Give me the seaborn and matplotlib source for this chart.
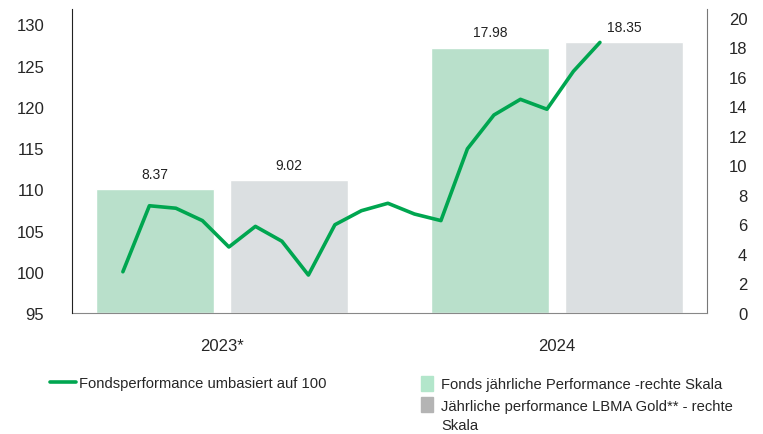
import numpy as np
import pandas as pd
import seaborn as sns
import matplotlib.pyplot as plt
from matplotlib.patches import Patch
from matplotlib.lines import Line2D

sns.set_style('white')
plt.rcParams['font.family'] = ['Liberation Sans', 'DejaVu Sans']

# data
years = ['2023*', '2024']
fund_annual = [8.37, 17.98]
gold_annual = [9.02, 18.35]
series_names = ['Fonds jährliche Performance -rechte Skala',
                'Jährliche performance LBMA Gold** - rechte Skala']
fund_rebased = [100.0, 108.0, 107.7, 106.2, 103.0, 105.5, 103.7, 99.6, 105.7, 107.4,
                108.3, 107.0, 106.2, 114.9, 119.0, 120.9, 119.7, 124.3, 127.8]
line_name = 'Fondsperformance umbasiert auf 100'

green_line = '#00a650'
green_bar = '#b3e6cb'
grey_bar = '#dadfe2'
grey_legend = '#b4b4b4'

bars = pd.DataFrame({
    'year': years * 2,
    'value': fund_annual + gold_annual,
    'series': [series_names[0]] * 2 + [series_names[1]] * 2,
})
line = pd.DataFrame({'step': np.arange(len(fund_rebased)), 'value': fund_rebased})

fig = plt.figure(figsize=(7.63, 4.35), dpi=100)
rect = [72 / 763, 1 - 314 / 435, (707 - 72) / 763, (314 - 10) / 435]
ax_bar = fig.add_axes(rect)
ax_line = fig.add_axes(rect)
ax_line.patch.set_alpha(0)

# bars on the right scale
sns.barplot(data=bars, x='year', y='value', hue='series', ax=ax_bar,
            palette=[green_bar, grey_bar], width=0.8, gap=0.12, legend=False)
for c in ax_bar.containers:
    ax_bar.bar_label(c, fmt='%.2f', padding=6, fontsize=10, color='#222222')
ax_bar.set_xlim(-0.448, 1.448)
ax_bar.set_ylim(0, 20.6)
ax_bar.set_yticks(range(0, 21, 2))
ax_bar.yaxis.tick_right()
ax_bar.tick_params(axis='y', length=0, labelsize=12, pad=29)
for lab in ax_bar.get_yticklabels():
    lab.set_ha('right')
ax_bar.tick_params(axis='x', length=0, labelsize=12, pad=18)
ax_bar.set_xlabel('')
ax_bar.set_ylabel('')
for s in ['top', 'left']:
    ax_bar.spines[s].set_visible(False)
ax_bar.spines['right'].set_color('#777777')
ax_bar.spines['bottom'].set_color('#888888')

# line on the left scale
sns.lineplot(data=line, x='step', y='value', ax=ax_line, color=green_line,
             linewidth=2.6, legend=False)
ax_line.set_xlim(-1.92, 22.04)
ax_line.set_ylim(95, 131.85)
ax_line.set_yticks(range(95, 131, 5))
ax_line.set_xticks([])
ax_line.tick_params(axis='y', length=0, labelsize=12, pad=20)
ax_line.set_xlabel('')
ax_line.set_ylabel('')
for s in ['top', 'right', 'bottom']:
    ax_line.spines[s].set_visible(False)
ax_line.spines['left'].set_color('#222222')

# legends
fig.legend(handles=[Line2D([0], [0], color=green_line, lw=2.6)], labels=[line_name],
           loc='upper left', bbox_to_anchor=(44 / 763, 1 - 371 / 435), frameon=False,
           fontsize=10.6, handlelength=1.75, handletextpad=0.2, borderaxespad=0)
fig.legend(handles=[Patch(color=green_bar), Patch(color=grey_legend)],
           labels=[series_names[0], 'Jährliche performance LBMA Gold** - rechte'],
           loc='upper left', bbox_to_anchor=(415 / 763, 1 - 371 / 435), frameon=False,
           fontsize=10.6, handlelength=0.8, handleheight=1.2, handletextpad=0.55,
           labelspacing=0.4, borderaxespad=0)
fig.text(441 / 763, 1 - 426 / 435, 'Skala', fontsize=10.6, va='center', ha='left')

fig.savefig('out.png', dpi=100)
